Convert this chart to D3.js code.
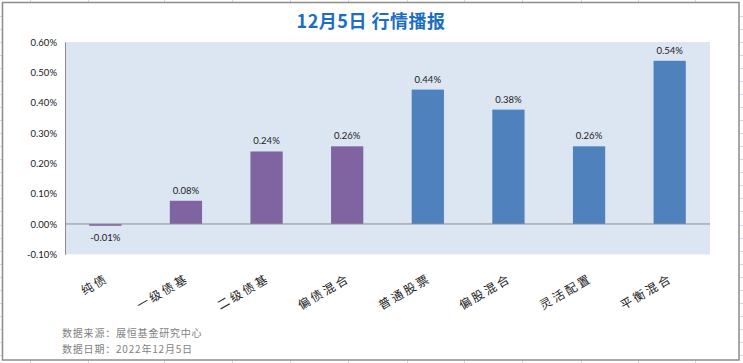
<!DOCTYPE html>
<html lang="zh">
<head>
<meta charset="utf-8">
<title>12月5日 行情播报</title>
<script src="https://cdn.jsdelivr.net/npm/d3@7"></script>
<style>
  body { margin: 0; background: #fff; }
  svg { display: block; }
  .tick text { font-family: Lato, "Liberation Sans", sans-serif; font-size: 9.5px; fill: #1a1a1a; }
</style>
</head>
<body>
<svg id="chart" width="743" height="363"></svg>
<script>
// categories and daily returns (%)
var categories = ["纯债", "一级债基", "二级债基", "偏债混合", "普通股票", "偏股混合", "灵活配置", "平衡混合"];
var returns = [-0.006, 0.0765, 0.239, 0.256, 0.443, 0.377, 0.256, 0.538];
var groups = ["bond", "bond", "bond", "bond", "equity", "equity", "equity", "equity"];
var yTicks = [-0.1, 0, 0.1, 0.2, 0.3, 0.4, 0.5, 0.6];
var notes = ["数据来源：展恒基金研究中心", "数据日期：2022年12月5日"];

var colors = { bond: "#8064a2", equity: "#4f81bd" };

var svg = d3.select("#chart");
var W = 743, H = 363;

// spreadsheet grid showing behind the chart object
var sheet = svg.append("g").attr("stroke", "#d0d7e5").attr("stroke-width", 1);
[30, 88, 164, 232, 290, 348, 407, 464, 522, 581, 638, 695].forEach(function(x) {
  sheet.append("line").attr("x1", x + 0.5).attr("x2", x + 0.5).attr("y1", 0).attr("y2", H);
});
for (var y = 15.7; y < H; y += 13.05) {
  sheet.append("line").attr("x1", 0).attr("x2", W).attr("y1", Math.round(y) + 0.5).attr("y2", Math.round(y) + 0.5);
}

// chart object
svg.append("rect")
  .attr("x", 2.5).attr("y", 2.5).attr("width", 736.5).attr("height", 357.5)
  .attr("fill", "#fff").attr("stroke", "#8c8c8c").attr("stroke-width", 1.5);

var margin = { left: 65, right: 33, top: 42 };
var plotW = 710 - margin.left;

var x = d3.scaleBand().domain(categories).range([margin.left, 710]).paddingInner(0.6).paddingOuter(0.3);
var yScale = d3.scaleLinear().domain([-0.1, 0.6]).range([254.3, 42]);

svg.append("rect")
  .attr("x", margin.left).attr("y", yScale(0.6))
  .attr("width", plotW).attr("height", yScale(-0.1) - yScale(0.6))
  .attr("fill", "#dce6f2");

svg.append("text")
  .attr("x", 371).attr("y", 28)
  .attr("text-anchor", "middle")
  .style("font-family", "'Noto Sans CJK SC', sans-serif")
  .style("font-size", "18px").style("font-weight", "bold")
  .style("letter-spacing", "0.5px")
  .style("fill", "#1b6ec2")
  .text("12月5日 行情播报");

// y axis
var yAxis = svg.append("g")
  .attr("transform", "translate(" + margin.left + ",0)")
  .call(d3.axisLeft(yScale).tickValues(yTicks).tickSize(0).tickPadding(8)
    .tickFormat(function(d) { return d.toFixed(2) + "%"; }));
yAxis.select(".domain").attr("stroke", "#8c8c8c");

// bars
svg.append("g").selectAll("rect")
  .data(returns)
  .join("rect")
  .attr("x", function(d, i) { return x(categories[i]); })
  .attr("y", function(d) { return yScale(Math.max(d, 0)); })
  .attr("width", x.bandwidth())
  .attr("height", function(d) { return Math.abs(yScale(d) - yScale(0)); })
  .attr("fill", function(d, i) { return colors[groups[i]]; });

// zero line
svg.append("line")
  .attr("x1", margin.left).attr("x2", 710)
  .attr("y1", yScale(0)).attr("y2", yScale(0))
  .attr("stroke", "#8c8c8c").attr("stroke-width", 1);

// value labels
svg.append("g").selectAll("text")
  .data(returns)
  .join("text")
  .attr("x", function(d, i) { return x(categories[i]) + x.bandwidth() / 2; })
  .attr("y", function(d) { return d >= 0 ? yScale(d) - 7 : yScale(0) + 17; })
  .attr("text-anchor", "middle")
  .style("font-family", "Lato, 'Liberation Sans', sans-serif")
  .style("font-size", "9.5px").style("fill", "#1a1a1a")
  .text(function(d) { return d.toFixed(2) + "%"; });

// category labels, slanted
svg.append("g").selectAll("text")
  .data(categories)
  .join("text")
  .attr("transform", function(d) {
    return "translate(" + (x(d) + x.bandwidth() / 2 + 4) + ",281) rotate(-30)";
  })
  .attr("text-anchor", "end")
  .style("font-family", "'Noto Sans CJK SC', sans-serif")
  .style("font-size", "12px").style("fill", "#222")
  .style("letter-spacing", "2.5px")
  .text(function(d) { return d; });

// footnotes
svg.append("g").selectAll("text")
  .data(notes)
  .join("text")
  .attr("x", 62)
  .attr("y", function(d, i) { return 337 + i * 15.5; })
  .style("font-family", "'Noto Sans CJK SC', sans-serif")
  .style("font-size", "10px").style("fill", "#7f7f7f")
  .style("letter-spacing", "0.8px")
  .text(function(d) { return d; });
</script>
</body>
</html>
